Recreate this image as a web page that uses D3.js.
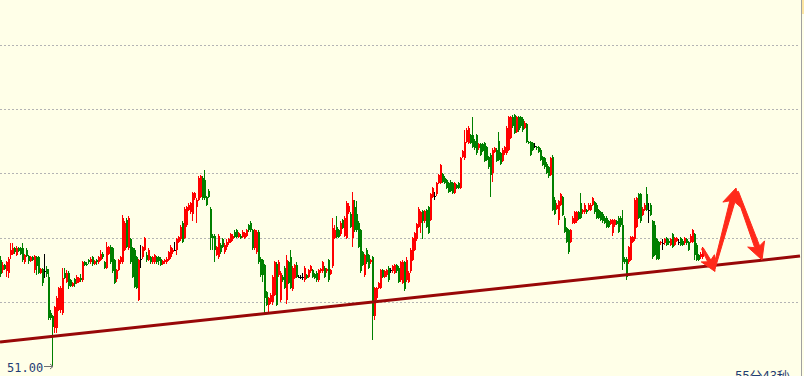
<!DOCTYPE html>
<html>
<head>
<meta charset="utf-8">
<script src="https://cdn.jsdelivr.net/npm/d3@7"></script>
<style>
  html, body { margin: 0; padding: 0; background: #ffffe8; }
  svg { display: block; }
</style>
</head>
<body>
<div id="chart"></div>
<script>
// one-minute bars, [open, high, low, close]
const bars = [
  [51.83,51.86,51.70,51.72],[51.75,51.81,51.73,51.79],[51.79,51.80,51.75,51.76],[51.74,51.82,51.70,51.81],
  [51.73,51.85,51.69,51.84],[51.87,51.96,51.84,51.91],[51.88,51.96,51.87,51.92],[51.92,51.93,51.88,51.89],
  [51.87,51.94,51.86,51.92],[51.92,51.93,51.89,51.90],[51.92,51.93,51.87,51.88],[51.92,51.96,51.81,51.83],
  [51.81,51.88,51.80,51.87],[51.91,51.92,51.85,51.86],[51.86,51.87,51.80,51.82],[51.82,51.86,51.81,51.85],
  [51.85,51.86,51.82,51.83],[51.75,51.87,51.73,51.86],[51.85,51.86,51.71,51.78],[51.85,51.86,51.72,51.73],
  [51.73,51.77,51.72,51.76],[51.76,51.77,51.63,51.65],[51.74,51.88,51.69,51.74],[51.76,51.78,51.70,51.72],
  [51.70,51.76,51.36,51.38],[51.42,51.44,51.36,51.38],[51.39,51.40,51.00,51.31],

  [51.30,51.47,51.26,51.46],[51.30,51.55,51.26,51.53],[51.44,51.62,51.43,51.61],[51.44,51.63,51.42,51.61],
  [51.42,51.77,51.40,51.69],[51.73,51.77,51.68,51.69],[51.66,51.75,51.65,51.73],[51.73,51.74,51.60,51.63],
  [51.67,51.68,51.62,51.63],[51.63,51.66,51.62,51.65],[51.68,51.69,51.62,51.64],[51.65,51.71,51.64,51.70],
  [51.66,51.70,51.65,51.69],[51.69,51.72,51.66,51.67],[51.67,51.82,51.66,51.81],[51.81,51.82,51.78,51.79],
  [51.80,51.81,51.78,51.79],[51.83,51.84,51.80,51.81],[51.81,51.85,51.80,51.84],[51.85,51.86,51.78,51.80],
  [51.80,51.83,51.79,51.82],[51.83,51.84,51.79,51.81],[51.81,51.86,51.80,51.85],[51.83,51.91,51.82,51.88],
  [51.88,51.89,51.84,51.85],[51.81,51.82,51.76,51.77],[51.77,51.97,51.76,51.93],[51.88,51.94,51.87,51.93],
  [51.93,51.95,51.80,51.81],[51.92,51.93,51.73,51.74],[51.83,51.84,51.64,51.65],[51.68,51.76,51.66,51.75],
  [51.75,51.84,51.74,51.83],[51.81,51.86,51.80,51.85],[51.81,52.18,51.80,52.16],[51.91,52.13,51.90,52.12],
  [52.14,52.16,51.92,51.93],[51.92,52.17,51.91,52.16],[51.99,52.00,51.80,51.81],[51.92,51.93,51.69,51.70],
  [51.91,51.92,51.61,51.62],[51.85,51.86,51.60,51.61],[51.52,51.84,51.51,51.83],

  [51.84,51.95,51.77,51.84],[51.85,51.94,51.84,51.93],[51.91,52.01,51.90,52.00],[51.87,51.89,51.81,51.83],
  [51.83,51.92,51.82,51.91],[51.85,51.86,51.80,51.81],[51.81,51.86,51.80,51.85],[51.81,51.88,51.80,51.87],
  [51.85,51.86,51.80,51.81],[51.85,51.86,51.79,51.82],[51.84,51.85,51.78,51.79],[51.80,51.83,51.79,51.82],
  [51.81,51.84,51.80,51.83],[51.81,51.85,51.80,51.84],[51.83,51.90,51.82,51.89],[51.85,51.95,51.84,51.93],
  [51.89,51.92,51.88,51.91],[51.91,51.97,51.90,51.91],[51.91,52.00,51.87,51.99],[51.97,52.02,51.96,52.01],
  [51.99,52.10,51.98,52.09],[52.12,52.13,51.96,51.97],[52.00,52.24,51.99,52.23],[52.10,52.25,52.09,52.24],
  [52.22,52.27,52.21,52.26],[52.20,52.28,52.19,52.27],[52.19,52.36,52.13,52.35],[52.31,52.36,52.30,52.35],
  [52.24,52.31,52.12,52.30],[52.30,52.48,52.29,52.47],[52.32,52.49,52.31,52.48],[52.47,52.48,52.30,52.31],
  [52.45,52.53,52.30,52.31],[52.32,52.33,52.25,52.26],[52.37,52.38,52.31,52.32],[52.23,52.24,51.91,52.00],
  [52.02,52.03,51.91,52.00],[52.02,52.03,51.81,51.91],[51.87,51.94,51.86,51.93],[51.85,52.03,51.84,52.02],
  [51.95,51.96,51.88,51.89],[51.99,52.00,51.92,51.93],[51.89,51.96,51.88,51.95],[51.93,51.99,51.91,51.97],
  [51.96,52.00,51.95,51.99],[51.97,52.04,51.96,52.03],[51.99,52.03,51.98,52.02],[52.05,52.06,52.00,52.01],
  [52.06,52.07,52.00,52.01],[52.01,52.05,52.00,52.04],[52.02,52.03,51.99,52.00],[52.01,52.06,52.00,52.05],
  [52.00,52.05,51.99,52.04],[52.02,52.07,52.01,52.06],[52.10,52.11,52.05,52.06],[52.12,52.13,52.05,52.06],
  [52.06,52.07,51.91,51.92],[51.92,52.07,51.91,52.06],[51.89,52.06,51.88,52.05],[52.05,52.06,51.80,51.81],
  [51.84,51.85,51.70,51.71],[51.83,51.84,51.66,51.71],[51.79,51.80,51.42,51.53],[51.58,51.59,51.47,51.48],
  [51.48,51.54,51.42,51.53],[51.50,51.57,51.49,51.56],[51.50,51.71,51.48,51.70],[51.56,51.82,51.55,51.81],
  [51.80,51.81,51.47,51.48],[51.71,51.83,51.70,51.81],

  [51.52,51.74,51.50,51.73],[51.70,51.71,51.66,51.67],[51.77,51.78,51.60,51.61],[51.52,51.87,51.49,51.83],
  [51.81,51.82,51.64,51.65],[51.85,51.91,51.60,51.61],[51.60,51.78,51.59,51.77],[51.69,51.80,51.68,51.79],
  [51.79,51.81,51.69,51.70],[51.70,51.71,51.69,51.70],[51.70,51.71,51.68,51.70],[51.70,51.73,51.67,51.70],
  [51.67,51.78,51.66,51.77],[51.71,51.72,51.68,51.69],[51.70,51.76,51.69,51.75],[51.74,51.79,51.73,51.78],
  [51.75,51.76,51.69,51.70],[51.72,51.73,51.68,51.69],[51.73,51.74,51.66,51.67],[51.67,51.76,51.66,51.75],
  [51.74,51.77,51.73,51.76],[51.74,51.82,51.73,51.81],[51.77,51.78,51.69,51.70],[51.74,51.77,51.73,51.76],
  [51.83,51.84,51.66,51.67],[51.72,51.76,51.71,51.75],[51.78,52.16,51.77,52.08],[52.00,52.10,51.99,52.06],
  [52.09,52.17,52.00,52.01],[52.06,52.07,52.00,52.01],[52.03,52.13,52.02,52.12],[52.14,52.15,52.07,52.08],
  [52.02,52.17,52.01,52.16],[52.00,52.29,51.99,52.27],[52.20,52.27,52.19,52.25],[52.19,52.20,52.08,52.09],
  [52.00,52.36,51.93,52.30],[52.24,52.30,52.05,52.06],[52.19,52.29,52.05,52.06],[52.12,52.13,51.92,51.93],
  [52.06,52.07,51.73,51.74],[51.89,51.90,51.78,51.79],[51.71,51.88,51.70,51.87],[51.91,51.92,51.80,51.81],
  [51.87,51.88,51.76,51.77],[51.81,51.84,51.80,51.83],[51.85,51.86,51.21,51.39],[51.39,51.62,51.36,51.61],
  [51.53,51.62,51.52,51.61],[51.61,51.66,51.60,51.65],[51.61,51.76,51.60,51.75],[51.75,51.76,51.69,51.70],
  [51.70,51.75,51.69,51.74],[51.71,51.76,51.70,51.75],[51.77,51.78,51.66,51.67],[51.75,51.77,51.73,51.75],
  [51.74,51.79,51.73,51.78],[51.73,51.80,51.72,51.79],[51.79,51.80,51.73,51.74],[51.77,51.78,51.65,51.66],
  [51.67,51.82,51.66,51.81],[51.65,51.83,51.64,51.81],[51.81,51.82,51.59,51.60],[51.67,51.85,51.66,51.83],
  [51.66,51.74,51.65,51.73],[51.74,51.92,51.73,51.91],[51.83,52.01,51.82,52.00],[51.91,52.05,51.90,52.04],
  [51.99,52.12,51.98,52.11],[52.09,52.24,52.08,52.23],

  [52.12,52.21,52.04,52.20],[52.21,52.22,51.99,52.13],[52.13,52.22,52.12,52.21],[52.22,52.23,52.08,52.09],
  [52.24,52.25,52.03,52.04],[52.14,52.35,52.13,52.34],[52.32,52.40,52.31,52.39],[52.33,52.36,52.30,52.33],
  [52.34,52.44,52.33,52.43],[52.43,52.50,52.42,52.49],[52.43,52.58,52.42,52.57],[52.50,52.51,52.43,52.44],
  [52.47,52.48,52.42,52.43],[52.45,52.46,52.38,52.39],[52.43,52.44,52.35,52.36],[52.44,52.45,52.36,52.37],
  [52.43,52.44,52.34,52.35],[52.35,52.44,52.34,52.43],[52.41,52.42,52.38,52.39],[52.43,52.44,52.38,52.39],
  [52.39,52.63,52.38,52.62],[52.63,52.69,52.62,52.68],[52.62,52.84,52.61,52.75],[52.75,52.86,52.74,52.84],
  [52.74,52.87,52.73,52.86],[52.80,52.81,52.73,52.74],[52.80,52.94,52.70,52.71],[52.76,52.77,52.69,52.70],
  [52.80,52.81,52.65,52.66],[52.70,52.74,52.69,52.73],[52.73,52.74,52.64,52.65],[52.73,52.74,52.67,52.68],
  [52.74,52.75,52.59,52.60],[52.71,52.72,52.60,52.61],[52.63,52.64,52.54,52.55],[52.65,52.66,52.32,52.49],
  [52.51,52.70,52.44,52.69],[52.67,52.71,52.66,52.70],[52.69,52.70,52.59,52.60],[52.76,52.83,52.60,52.61],
  [52.66,52.67,52.57,52.58],[52.60,52.70,52.59,52.69],[52.66,52.72,52.65,52.71],[52.66,52.87,52.65,52.86],
  [52.69,52.95,52.68,52.94],[52.78,52.95,52.77,52.94],[52.94,52.96,52.86,52.87],[52.96,52.97,52.81,52.82],
  [52.83,52.95,52.82,52.94],[52.94,52.95,52.83,52.84],[52.94,52.95,52.86,52.87],[52.93,52.94,52.83,52.84],
  [52.86,52.91,52.85,52.90],[52.89,52.90,52.74,52.75],[52.75,52.76,52.73,52.74],[52.75,52.76,52.64,52.65],
  [52.74,52.75,52.68,52.69],[52.72,52.74,52.70,52.72],[52.71,52.72,52.69,52.70],[52.71,52.72,52.66,52.67],
  [52.69,52.70,52.60,52.61],[52.63,52.64,52.56,52.57],[52.62,52.63,52.54,52.55],[52.58,52.59,52.50,52.51],
  [52.55,52.56,52.47,52.48],[52.49,52.63,52.48,52.62],[52.63,52.65,52.21,52.22],[52.30,52.32,52.18,52.19],
  [52.23,52.27,52.22,52.26],[52.14,52.30,52.10,52.29],

  [52.26,52.35,52.25,52.34],[52.32,52.33,52.17,52.18],[52.16,52.17,52.04,52.05],[52.08,52.09,51.96,51.97],
  [52.06,52.07,51.88,51.89],[51.97,52.07,51.96,52.06],[52.12,52.17,52.11,52.16],[52.12,52.21,52.11,52.20],
  [52.13,52.21,52.12,52.20],[52.20,52.21,52.14,52.15],[52.27,52.35,52.15,52.16],[52.20,52.23,52.19,52.22],
  [52.20,52.27,52.19,52.26],[52.22,52.23,52.19,52.20],[52.22,52.27,52.21,52.26],[52.22,52.27,52.21,52.26],
  [52.26,52.32,52.25,52.31],[52.28,52.29,52.19,52.20],[52.26,52.27,52.15,52.16],[52.22,52.23,52.15,52.16],
  [52.20,52.21,52.13,52.14],[52.19,52.20,52.12,52.13],[52.16,52.17,52.11,52.12],[52.16,52.17,52.08,52.09],
  [52.13,52.14,52.08,52.09],[52.11,52.15,52.10,52.14],[52.04,52.15,52.02,52.14],[52.10,52.15,52.09,52.14],
  [52.13,52.14,52.10,52.11],[52.16,52.17,52.04,52.05],[52.16,52.17,52.09,52.10],[52.10,52.22,51.75,51.81],
  [51.84,51.85,51.80,51.81],[51.84,51.85,51.67,51.70],[51.81,51.94,51.80,51.93],[51.83,52.02,51.82,52.01],
  [51.97,52.02,51.96,52.01],[51.99,52.31,51.98,52.30],[52.09,52.32,52.08,52.31],[52.34,52.35,52.15,52.16],
  [52.34,52.35,52.12,52.13],[52.18,52.24,52.17,52.23],[52.22,52.27,52.21,52.26],[52.34,52.40,52.21,52.22],
  [52.22,52.27,52.12,52.22],[52.26,52.27,52.17,52.18],[52.13,52.14,51.84,51.85],[52.10,52.13,51.86,51.87],
  [51.99,52.00,51.83,51.84],[51.97,51.98,51.83,51.84],[51.96,51.98,51.95,51.97],[51.96,51.99,51.91,51.96],
  [51.96,52.00,51.95,51.99],[52.00,52.01,51.94,51.95],[51.98,51.99,51.95,51.96],[51.95,52.00,51.94,51.99],
  [52.03,52.04,51.92,51.93],[51.95,52.01,51.94,52.00],[51.98,52.01,51.97,52.00],[51.97,51.99,51.95,51.97],
  [52.00,52.01,51.94,51.95],[51.98,51.99,51.94,51.95],[51.96,52.01,51.95,52.00],[51.99,52.00,51.95,51.96],
  [51.97,51.98,51.90,51.91],[51.97,52.03,51.96,52.02],[51.97,52.07,51.96,52.06],[52.03,52.04,51.83,51.87],
  [51.95,51.96,51.82,51.83],[51.87,51.88,51.82,51.83],[51.85,51.89,51.84,51.88],[51.85,51.93,51.84,51.92]
];

const gridPrices = [51.5, 52.0, 52.5, 53.0, 53.5];
const priceDomain = [51.0, 53.5];

// support line, in [bar position, price]
const trendLine = [[0, 51.19], [400, 51.86]];

// hand drawn arrows after the last bar, in [bar position, price]
const arrows = [
  { from: [351.2, 51.92], to: [357.5, 51.74], head: 12, wing: 7.5, tail: 1, neck: 1.8 },
  { from: [357.0, 51.76], to: [368.0, 52.39], head: 14, wing: 9, tail: 1, neck: 2.6 },
  { from: [368.5, 52.36], to: [381.0, 51.83], head: 14, wing: 9, tail: 1.5, neck: 2.6 }
];

const timeLabel = "55分43秒";

const width = 804, height = 376;
const upColor = "#ff0000", downColor = "#008000", flatColor = "#000000";

const x = d3.scaleLinear().domain([0, bars.length]).range([0, bars.length * 2]);
const y = d3.scaleLinear().domain(priceDomain).range([366.5, 45.5]);

const svg = d3.select("#chart").append("svg")
  .attr("width", width)
  .attr("height", height);

svg.append("rect")
  .attr("width", width)
  .attr("height", height)
  .attr("fill", "#ffffe8");

// dotted price grid
svg.append("g")
  .selectAll("line")
  .data(gridPrices)
  .join("line")
  .attr("x1", 0)
  .attr("x2", 800)
  .attr("y1", d => Math.floor(y(d)) + 0.5)
  .attr("y2", d => Math.floor(y(d)) + 0.5)
  .attr("stroke", "#b4b4b4")
  .attr("stroke-width", 1)
  .attr("stroke-dasharray", "2,2");

// right frame
svg.append("line")
  .attr("x1", 801.5).attr("x2", 801.5)
  .attr("y1", 0).attr("y2", height)
  .attr("stroke", "#a0a0a0");
svg.append("rect")
  .attr("x", 802).attr("y", 0)
  .attr("width", 2).attr("height", 14)
  .attr("fill", "#fde6a2");

const colorOf = d => d[3] > d[0] ? upColor : d[3] < d[0] ? downColor : flatColor;

const candle = svg.append("g")
  .attr("shape-rendering", "crispEdges")
  .selectAll("g")
  .data(bars)
  .join("g")
  .attr("fill", colorOf);

candle.append("rect")
  .attr("class", "wick")
  .attr("x", (d, i) => Math.round(x(i)))
  .attr("width", 1)
  .attr("y", d => y(Math.max(d[0], d[1], d[3])))
  .attr("height", d => Math.max(1, y(Math.min(d[0], d[2], d[3])) - y(Math.max(d[0], d[1], d[3]))));

candle.append("rect")
  .attr("class", "body")
  .attr("x", (d, i) => Math.round(x(i)))
  .attr("width", 2)
  .attr("y", d => y(Math.max(d[0], d[3])))
  .attr("height", d => Math.max(1, Math.abs(y(d[0]) - y(d[3]))));

// support line
svg.append("path")
  .datum(trendLine)
  .attr("d", d3.line().x(d => x(d[0])).y(d => y(d[1])))
  .attr("fill", "none")
  .attr("stroke", "#980808")
  .attr("stroke-width", 3);

// arrows
function arrowShape(a) {
  const p0 = [x(a.from[0]), y(a.from[1])];
  const p1 = [x(a.to[0]), y(a.to[1])];
  const dx = p1[0] - p0[0], dy = p1[1] - p0[1];
  const len = Math.hypot(dx, dy);
  const ux = dx / len, uy = dy / len;
  const nx = -uy, ny = ux;
  const b = [p1[0] - ux * a.head, p1[1] - uy * a.head];
  const back = [b[0] - ux * 3, b[1] - uy * 3];
  return [
    [p0[0] + nx * a.tail, p0[1] + ny * a.tail],
    [b[0] + nx * a.neck, b[1] + ny * a.neck],
    [back[0] + nx * a.wing, back[1] + ny * a.wing],
    p1,
    [back[0] - nx * a.wing, back[1] - ny * a.wing],
    [b[0] - nx * a.neck, b[1] - ny * a.neck],
    [p0[0] - nx * a.tail, p0[1] - ny * a.tail]
  ];
}

svg.append("g")
  .selectAll("path")
  .data(arrows)
  .join("path")
  .attr("d", a => d3.line()(arrowShape(a)) + "Z")
  .attr("fill", "#ff2a1a")
  .attr("stroke", "#ff2a1a")
  .attr("stroke-width", 1)
  .attr("stroke-linejoin", "round");

// lowest price marker
const lowIndex = d3.minIndex(bars, d => d[2]);
const lowPrice = bars[lowIndex][2];
const lx = Math.round(x(lowIndex)) + 1;
const ly = y(lowPrice);

svg.append("text")
  .attr("x", 7)
  .attr("y", ly + 5)
  .attr("font-family", "'DejaVu Sans Mono', monospace")
  .attr("font-size", 12)
  .attr("fill", "#1f3d75")
  .text(lowPrice.toFixed(2));

svg.append("path")
  .attr("d", `M44,${ly}H${lx}M${lx - 3},${ly - 2.5}L${lx},${ly}L${lx - 3},${ly + 2.5}`)
  .attr("fill", "none")
  .attr("stroke", "#707070")
  .attr("stroke-width", 1);

// time readout, clipped by the bottom edge
svg.append("text")
  .attr("x", 735)
  .attr("y", 381)
  .attr("font-family", "'Noto Sans CJK SC', sans-serif")
  .attr("font-size", 13)
  .attr("fill", "#1f3d75")
  .text(timeLabel);
</script>
</body>
</html>
